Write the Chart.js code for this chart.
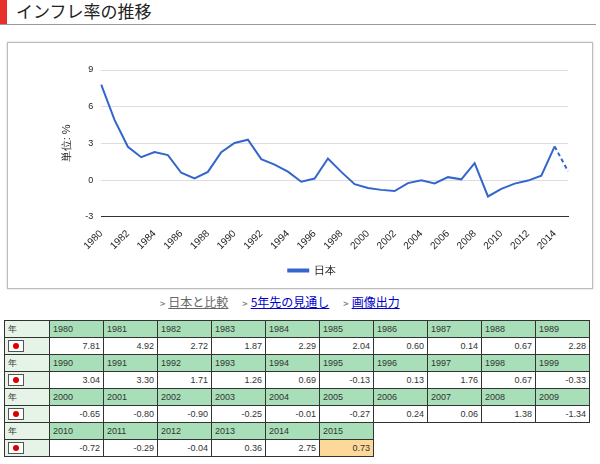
<!DOCTYPE html>
<html><head><meta charset="utf-8">
<script src="https://cdn.jsdelivr.net/npm/chart.js@4"></script>
<style>
body{margin:0;font-family:"Noto Sans CJK JP",sans-serif;background:#fff;width:600px;height:464px;overflow:hidden;position:relative}
#title{position:absolute;left:0;top:0;width:596px;height:24px;border-bottom:1px solid #999}
#title .bar{position:absolute;left:0;top:0;width:7px;height:24px;background:#e8302a}
#title span{position:absolute;left:16px;top:-2px;font-size:17px;color:#222}
#box{position:absolute;left:7px;top:42px;width:584px;height:245px;border:1px solid #bbb;box-shadow:0 0 2px #ccc}
#links{position:absolute;top:293px;left:160px;font-size:12px;white-space:nowrap}
#links a{color:#00c;text-decoration:underline;margin-right:14px}
#links a.g{color:#666}
#links b{color:#888;font-size:9px;margin-right:3px}
table{position:absolute;left:4px;top:320px;border-collapse:collapse;font-family:"Liberation Sans",Arial,sans-serif;font-size:9px;color:#333}
td{border:1px solid #333;height:16px;padding:0 3px;width:47px}
td.h{background:#a8dfb8}
td.f{width:38px;background:#e6f4e8}
td.v{text-align:right;background:#fff}
td.e{border:none;background:none}
td.hl{background:#fcd89a}
.flag{display:inline-block;width:14px;height:10px;border:1px solid #555;background:#fff;position:relative;vertical-align:middle}
.flag:after{content:"";position:absolute;left:4px;top:2px;width:6px;height:6px;border-radius:50%;background:#d00}
</style></head><body>
<div id="title"><div class="bar"></div><span>インフレ率の推移</span></div>
<div id="box"><canvas id="c" width="584" height="245"></canvas></div>
<div id="links"><b>&gt;</b><a class="g">日本と比較</a><b>&gt;</b><a>5年先の見通し</a><b>&gt;</b><a>画像出力</a></div>
<table id="t"></table>
<script>
const years=[1980,1981,1982,1983,1984,1985,1986,1987,1988,1989,1990,1991,1992,1993,1994,1995,1996,1997,1998,1999,2000,2001,2002,2003,2004,2005,2006,2007,2008,2009,2010,2011,2012,2013,2014,2015];
const values=[7.81,4.92,2.72,1.87,2.29,2.04,0.60,0.14,0.67,2.28,3.04,3.30,1.71,1.26,0.69,-0.13,0.13,1.76,0.67,-0.33,-0.65,-0.80,-0.90,-0.25,-0.01,-0.27,0.24,0.06,1.38,-1.34,-0.72,-0.29,-0.04,0.36,2.75,0.73];
const yTicks=[-3,0,3,6,9];
const blue='#3366cc';
new Chart(document.getElementById('c'),{type:'line',
data:{labels:years.map(String),datasets:[{label:'日本',data:values,borderColor:blue,backgroundColor:blue,borderWidth:2,pointRadius:0,tension:0,
segment:{borderDash:ctx=>ctx.p1DataIndex===values.length-1?[4,3]:undefined}}]},
options:{responsive:false,animation:false,
layout:{padding:{left:48,right:24,top:27,bottom:2}},
plugins:{legend:{position:'bottom',labels:{boxWidth:20,boxHeight:2,font:{size:11},color:'#222'}},tooltip:{enabled:false}},
scales:{
x:{grid:{display:false},border:{color:'#333'},ticks:{autoSkip:false,maxRotation:45,minRotation:45,font:{size:10},color:'#222',callback:(v,i)=>i%2===0?years[i]:''}},
y:{min:-3,max:9,afterBuildTicks:a=>{a.ticks=yTicks.map(v=>({value:v}))},grid:{color:'#ddd',drawTicks:false},border:{display:false},
ticks:{font:{size:9},color:'#222',padding:8},title:{display:true,text:'単位: %',font:{size:11},color:'#222'}}}}});
let html='';
for(let r=0;r<4;r++){
 let h='<tr><td class="h f">年</td>',v='<tr><td class="f"><span class="flag"></span></td>';
 for(let c=0;c<10;c++){const i=r*10+c;
  if(i<years.length){h+='<td class="h">'+years[i]+'</td>';v+='<td class="v'+(i===35?' hl':'')+'">'+values[i].toFixed(2)+'</td>';}
  else{h+='<td class="e"></td>';v+='<td class="e"></td>';}}
 html+=h+'</tr>'+v+'</tr>';}
document.getElementById('t').innerHTML=html;
</script></body></html>
